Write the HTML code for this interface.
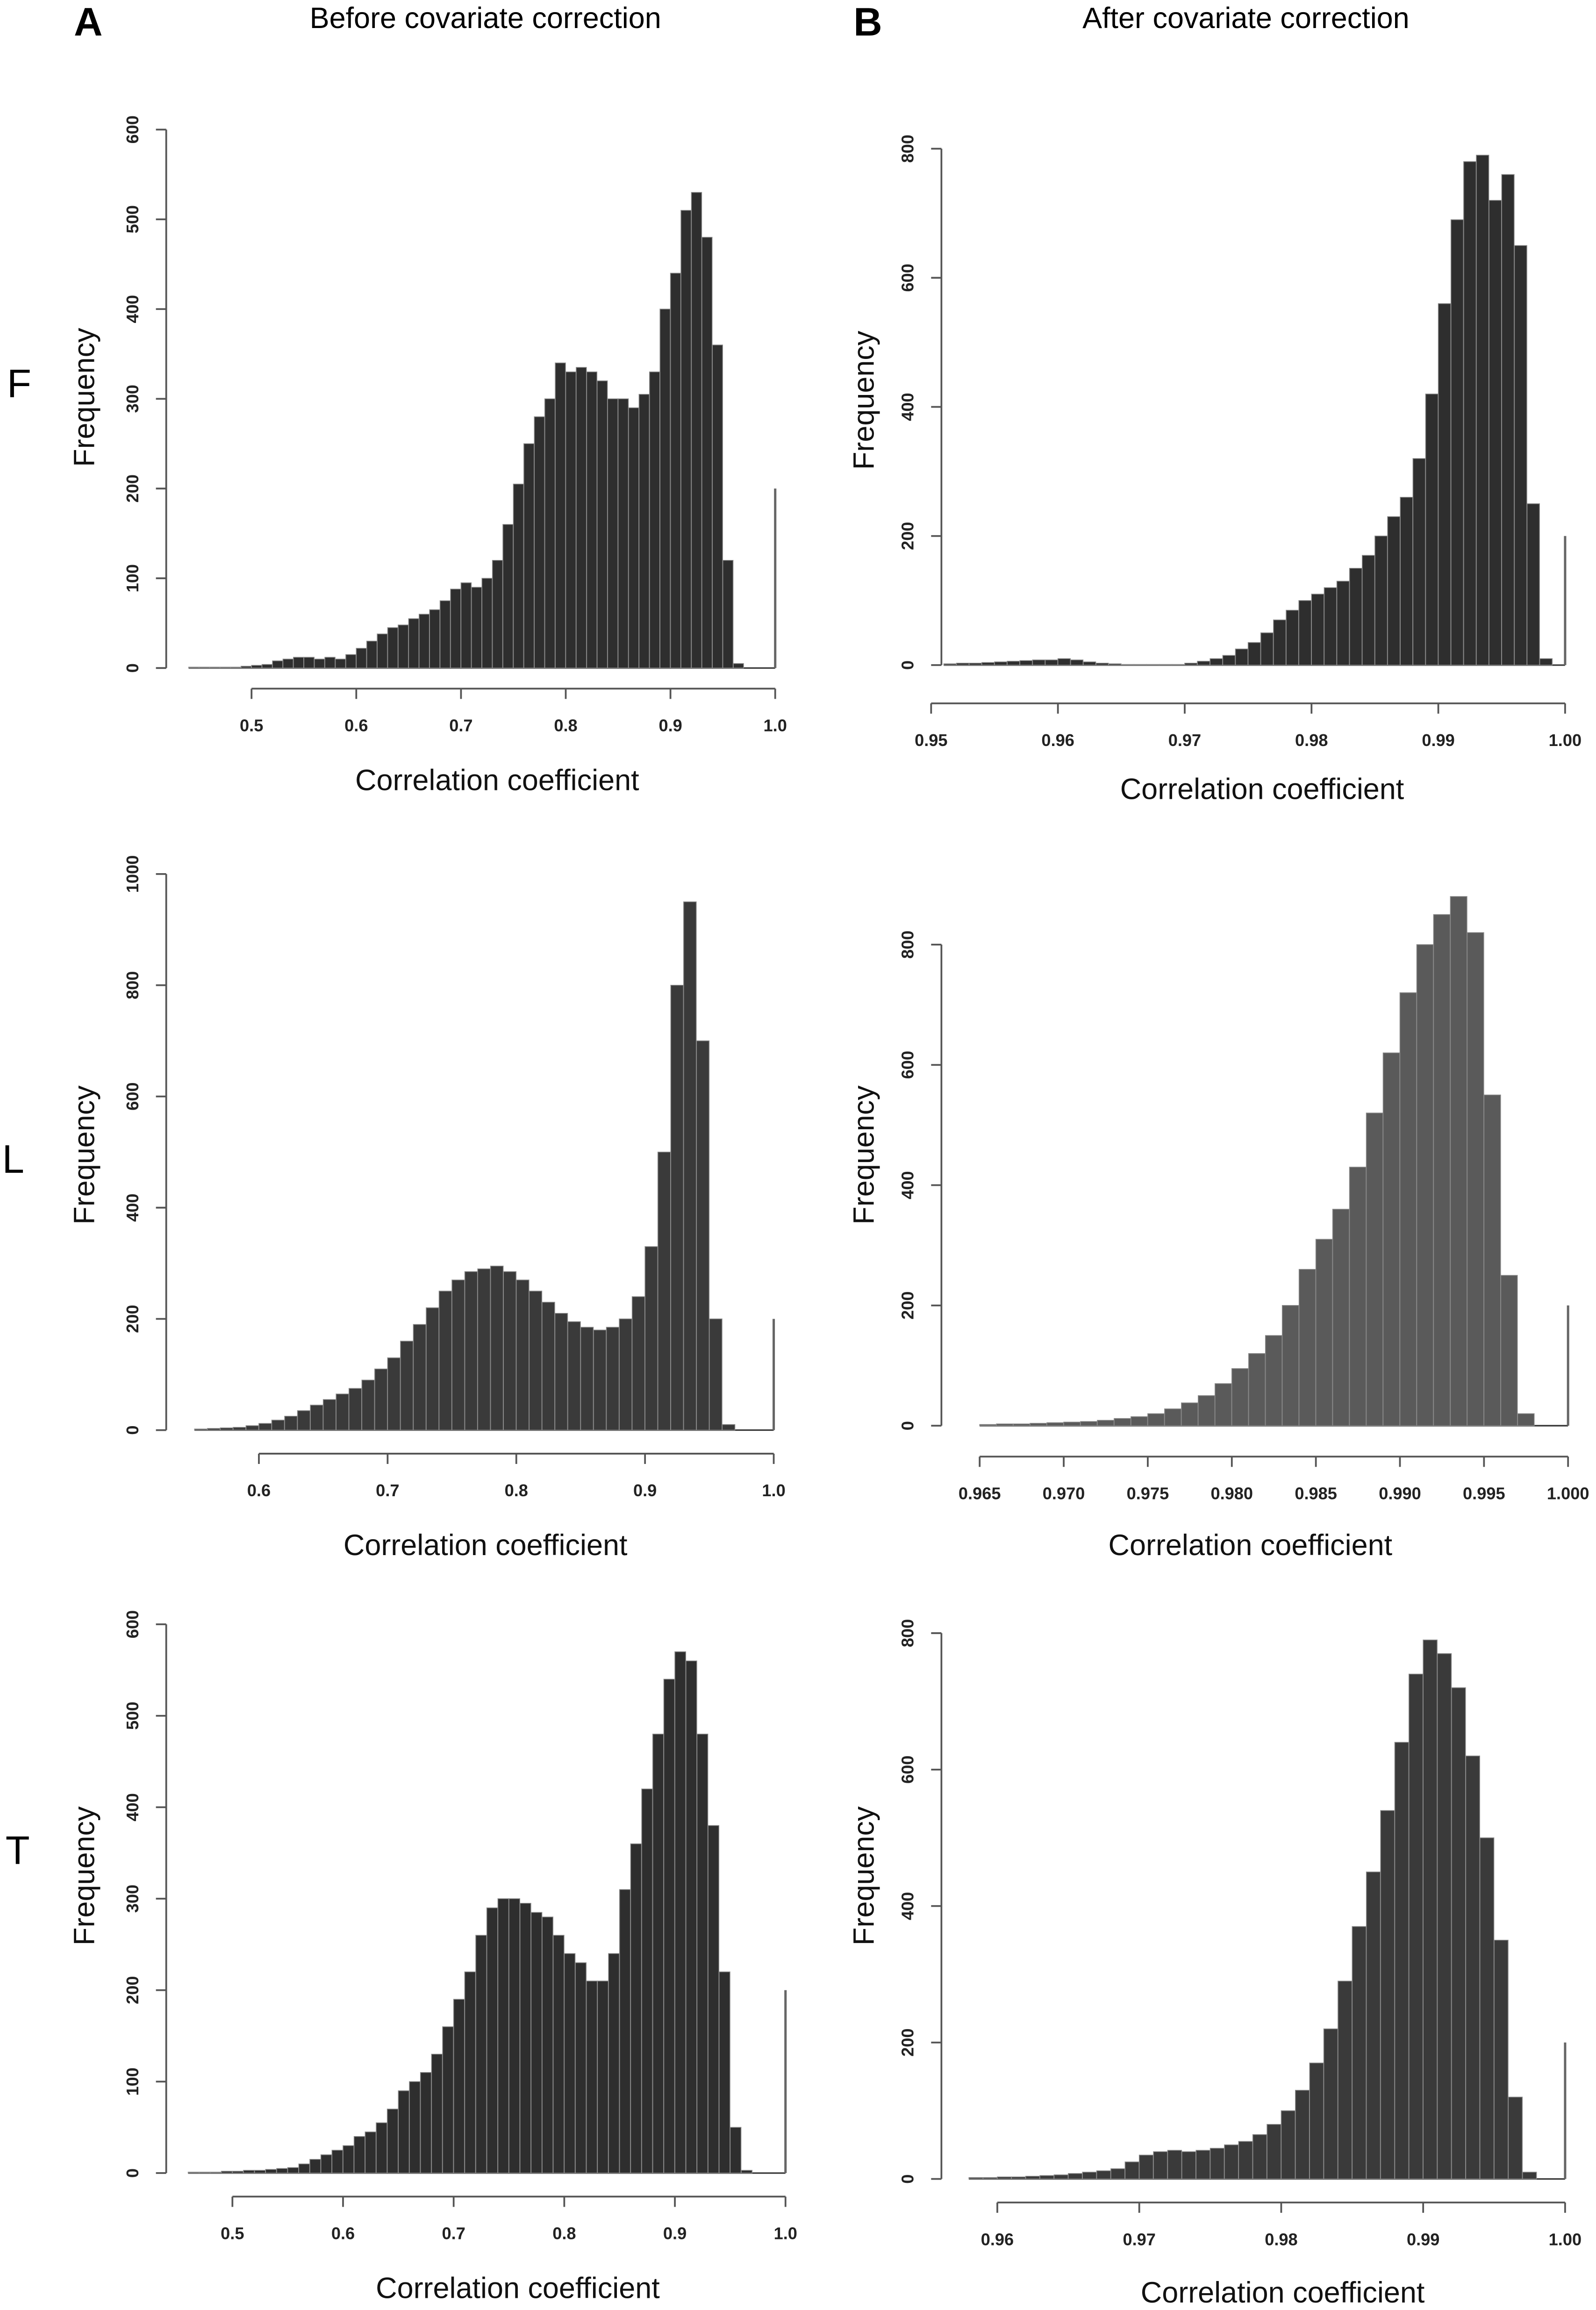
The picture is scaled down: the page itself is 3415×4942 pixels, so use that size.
<!DOCTYPE html>
<html><head><meta charset="utf-8">
<style>html,body{margin:0;padding:0;background:#fff;overflow:hidden}svg{display:block}</style>
</head><body>
<svg id="fig" xmlns="http://www.w3.org/2000/svg" width="3415" height="4942" viewBox="0 0 1085 1570" font-family="'Liberation Sans', sans-serif">
<rect width="1085" height="1570" fill="#fff"/>
<text x="60" y="24" font-size="27" font-weight="bold" text-anchor="middle">A</text>
<text x="590" y="24" font-size="27" font-weight="bold" text-anchor="middle">B</text>
<text x="330" y="19" font-size="20" text-anchor="middle">Before covariate correction</text>
<text x="847" y="19" font-size="20" text-anchor="middle">After covariate correction</text>
<text x="13" y="270" font-size="27" text-anchor="middle">F</text>
<text x="9" y="797" font-size="27" text-anchor="middle">L</text>
<text x="12" y="1267" font-size="27" text-anchor="middle">T</text>
</svg>
<script>
// ---- data (counts per bin) ----
const afStart = 0.44, afBin = 0.01;
const afCounts = [1,1,1,1,1,2,3,4,8,10,12,12,10,12,10,15,22,30,38,45,48,55,60,65,75,88,95,90,100,120,160,205,250,280,300,340,330,335,330,320,300,300,290,305,330,400,440,510,530,480,360,120,5];
const bfStart = 0.951, bfBin = 0.001;
const bfCounts = [2,3,3,4,5,6,7,8,8,10,8,5,3,2,1,1,1,1,1,3,6,10,15,25,35,50,70,85,100,110,120,130,150,170,200,230,260,320,420,560,690,780,790,720,760,650,250,10];
const alStart = 0.55, alBin = 0.01;
const alCounts = [2,3,4,5,8,12,18,25,35,45,55,65,75,90,110,130,160,190,220,250,270,285,290,295,285,270,250,230,210,195,185,180,185,200,240,330,500,800,950,700,200,10];
const blStart = 0.965, blBin = 0.001;
const blCounts = [2,3,3,4,5,6,7,9,12,15,20,28,38,50,70,95,120,150,200,260,310,360,430,520,620,720,800,850,880,820,550,250,20];
const atStart = 0.46, atBin = 0.01;
const atCounts = [1,1,1,2,2,3,3,4,5,6,10,15,20,25,30,40,45,55,70,90,100,110,130,160,190,220,260,290,300,300,295,285,280,260,240,230,210,210,240,310,360,420,480,540,570,560,480,380,220,50,3];
const btStart = 0.958, btBin = 0.001;
const btCounts = [2,2,3,3,4,5,6,8,10,12,15,25,35,40,42,40,42,45,50,55,65,80,100,130,170,220,290,370,450,540,640,740,790,770,720,620,500,350,120,10];
const spikeValue = 200;
const afXTicks = ["0.5","0.6","0.7","0.8","0.9","1.0"];
const afYTicks = [0,100,200,300,400,500,600];
const bfXTicks = ["0.95","0.96","0.97","0.98","0.99","1.00"];
const bfYTicks = [0,200,400,600,800];
const alXTicks = ["0.6","0.7","0.8","0.9","1.0"];
const alYTicks = [0,200,400,600,800,1000];
const blXTicks = ["0.965","0.970","0.975","0.980","0.985","0.990","0.995","1.000"];
const blYTicks = [0,200,400,600,800];
const atXTicks = ["0.5","0.6","0.7","0.8","0.9","1.0"];
const atYTicks = [0,100,200,300,400,500,600];
const btXTicks = ["0.96","0.97","0.98","0.99","1.00"];
const btYTicks = [0,200,400,600,800];

const NS = "http://www.w3.org/2000/svg";
const svg = document.getElementById('fig');
function mk(tag, attrs, parent){const e=document.createElementNS(NS,tag);for(const k in attrs)e.setAttribute(k,attrs[k]);(parent||svg).appendChild(e);return e;}

function panel(id, cfg, counts, start, bin, xticks, yticks){
  const g = mk('g',{});
  
  
  const xs = v => cfg.x0 + (v - cfg.xv0) * (cfg.x1 - cfg.x0) / (cfg.xv1 - cfg.xv0);
  const ys = v => cfg.y0 + (v - cfg.yv0) * (cfg.y1 - cfg.y0) / (cfg.yv1 - cfg.yv0);
  const bl = mk('line',{x1:xs(start),x2:xs(1.0),y1:ys(0),y2:ys(0),stroke:'#333','stroke-width':1},g);
  
  
  counts.forEach((c,i)=>{
    const xa = xs(start + i*bin), xb = xs(start + (i+1)*bin);
    const r = mk('rect',{x:xa,y:ys(c),width:Math.max(xb-xa-0.15,0.3),height:Math.max(ys(0)-ys(c),0),fill:cfg.fill,stroke:'#888','stroke-width':0.5},g);
    
    
  });
  const sp = mk('rect',{x:xs(1.0)-0.8,y:ys(spikeValue),width:1.6,height:ys(0)-ys(spikeValue),fill:'#666'},g);
  
  
  const xv = xticks.map(Number);
  const xa = mk('line',{x1:xs(xv[0]),x2:xs(xv[xv.length-1]),y1:cfg.xaxisY,y2:cfg.xaxisY,stroke:'#555','stroke-width':1.2},g);
  
  
  xticks.forEach(t=>{
    const x = xs(Number(t));
    mk('line',{x1:x,x2:x,y1:cfg.xaxisY,y2:cfg.xaxisY+7,stroke:'#555','stroke-width':1.2},g);
    const tx = mk('text',{x:x,y:cfg.xaxisY+29,'font-size':11.5,'font-weight':'bold','text-anchor':'middle',fill:'#222'},g);
    tx.textContent = t;
    
    
  });
  const ya = mk('line',{x1:cfg.yaxisX,x2:cfg.yaxisX,y1:ys(yticks[0]),y2:ys(yticks[yticks.length-1]),stroke:'#555','stroke-width':1.2},g);
  
  
  yticks.forEach(t=>{
    const y = ys(t);
    mk('line',{x1:cfg.yaxisX-7,x2:cfg.yaxisX,y1:y,y2:y,stroke:'#555','stroke-width':1.2},g);
    const lx = cfg.yaxisX-19;
    const tx = mk('text',{x:lx,y:y,'font-size':11.5,'font-weight':'bold','text-anchor':'middle',fill:'#222',transform:`rotate(-90 ${lx} ${y})`},g);
    tx.textContent = t;
    
    
  });
  const xt = mk('text',{x:cfg.xlabX,y:cfg.xlabY,'font-size':20,'text-anchor':'middle',fill:'#111'},g);
  xt.textContent = 'Correlation coefficient';
  
  
  const yt = mk('text',{x:cfg.ylabX,y:cfg.ylabY,'font-size':20,'text-anchor':'middle',fill:'#111',transform:`rotate(-90 ${cfg.ylabX} ${cfg.ylabY})`},g);
  yt.textContent = 'Frequency';
  
  
}

panel('before-f',{x0:171,x1:527,xv0:0.5,xv1:1.0,y0:454,y1:88,yv0:0,yv1:600,xaxisY:468,yaxisX:113,xlabX:338,xlabY:537,ylabX:64,ylabY:270,fill:'#2e2e2e'},afCounts,afStart,afBin,afXTicks,afYTicks);
panel('after-f',{x0:633,x1:1064,xv0:0.95,xv1:1.0,y0:452,y1:101,yv0:0,yv1:800,xaxisY:478,yaxisX:640,xlabX:858,xlabY:543,ylabX:594,ylabY:272,fill:'#2e2e2e'},bfCounts,bfStart,bfBin,bfXTicks,bfYTicks);
panel('before-l',{x0:176,x1:526,xv0:0.6,xv1:1.0,y0:972,y1:594,yv0:0,yv1:1000,xaxisY:988,yaxisX:113,xlabX:330,xlabY:1057,ylabX:64,ylabY:785,fill:'#3a3a3a'},alCounts,alStart,alBin,alXTicks,alYTicks);
panel('after-l',{x0:666,x1:1066,xv0:0.965,xv1:1.0,y0:969,y1:642,yv0:0,yv1:800,xaxisY:990,yaxisX:640,xlabX:850,xlabY:1057,ylabX:594,ylabY:785,fill:'#5a5a5a'},blCounts,blStart,blBin,blXTicks,blYTicks);
panel('before-t',{x0:158,x1:534,xv0:0.5,xv1:1.0,y0:1477,y1:1104,yv0:0,yv1:600,xaxisY:1493,yaxisX:113,xlabX:352,xlabY:1562,ylabX:64,ylabY:1275,fill:'#2e2e2e'},atCounts,atStart,atBin,atXTicks,atYTicks);
panel('after-t',{x0:678,x1:1064,xv0:0.96,xv1:1.0,y0:1481,y1:1110,yv0:0,yv1:800,xaxisY:1497,yaxisX:640,xlabX:872,xlabY:1565,ylabX:594,ylabY:1275,fill:'#3a3a3a'},btCounts,btStart,btBin,btXTicks,btYTicks);
</script>
</body></html>
